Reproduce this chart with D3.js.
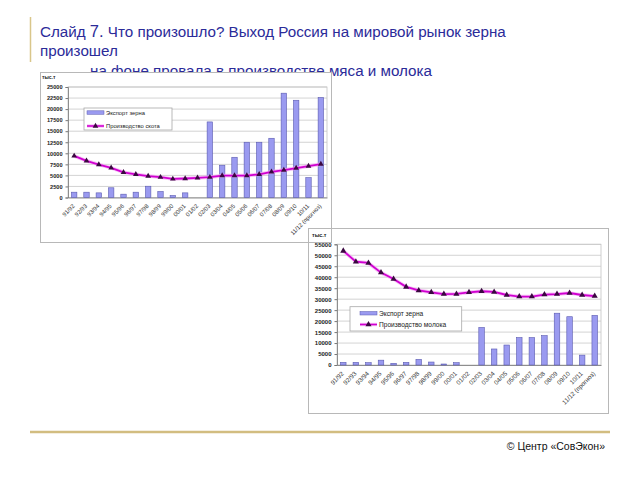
<!DOCTYPE html>
<html><head><meta charset="utf-8">
<script src="https://cdn.jsdelivr.net/npm/d3@7/dist/d3.min.js"></script>
<style>body{margin:0;background:#fff} svg{display:block}</style>
</head><body><svg id="c" width="640" height="480"></svg>
<script>
const categories = ["91/92","92/93","93/94","94/95","95/96","96/97","97/98","98/99","99/00","00/01","01/02","02/03","03/04","04/05","05/06","06/07","07/08","08/09","09/10","10/11","11/12 (прогноз)"];
const grainExport = [1200,1200,1050,2200,750,1200,2550,1350,450,1050,0,17100,7300,9100,12500,12500,13400,23600,22000,4500,22600];
const livestockProduction = [9400,8300,7450,6700,5700,5250,4850,4600,4200,4300,4450,4600,4950,4950,4950,5250,5800,6200,6650,7100,7550];
const milkProduction = [52000,47100,46500,42100,39200,35600,34000,33100,32300,32400,33100,33600,33300,31900,31200,31200,32100,32300,32800,31900,31400];
const ticks1 = [0,2500,5000,7500,10000,12500,15000,17500,20000,22500,25000];
const ticks2 = [0,5000,10000,15000,20000,25000,30000,35000,40000,45000,50000,55000];
const names1 = ["Экспорт зерна","Производство скота"];
const names2 = ["Экспорт зерна","Производство молока"];
const unitLabel = "тыс.т";
const titleLines = ["Слайд 7. Что произошло? Выход Россия на мировой рынок зерна","произошел","на фоне провала в производстве мяса и молока"];
const footer = "© Центр «СовЭкон»";

const svg = d3.select("#c");
const FONT = "Liberation Sans, Arial, sans-serif";

// slide decorations
const grad = svg.append("defs").append("linearGradient").attr("id","gold").attr("x1","0").attr("x2","1");
grad.append("stop").attr("offset","0").attr("stop-color","#c9ad55");
grad.append("stop").attr("offset","1").attr("stop-color","#e8d9a8");
svg.append("line").attr("x1",30).attr("x2",612).attr("y1",17).attr("y2",17).attr("stroke","url(#gold)").attr("stroke-width",1.5);
svg.append("line").attr("x1",30.5).attr("x2",30.5).attr("y1",17).attr("y2",62).attr("stroke","#d9c68a").attr("stroke-width",1.5);
svg.append("line").attr("x1",30).attr("x2",610).attr("y1",432).attr("y2",432).attr("stroke","#d2bd80").attr("stroke-width",2.5);

const title = svg.append("g").attr("font-family",FONT).attr("fill","#2b2b99").attr("font-size",15.2);
const t0 = title.append("text").attr("x",40).attr("y",37);
t0.append("tspan").text("Слайд ");
t0.append("tspan").attr("font-size",16.5).text("7.");
t0.append("tspan").text(" " + titleLines[0].slice(9));
title.append("text").attr("x",40).attr("y",56).text(titleLines[1]);
title.append("text").attr("x",90).attr("y",76).text(titleLines[2]);

svg.append("text").attr("x",605).attr("y",450).attr("text-anchor","end").attr("font-family",FONT)
  .attr("font-size",10.5).attr("fill","#111").text(footer);

function drawChart(cfg){
  const g = svg.append("g").attr("font-family",FONT);
  g.append("rect").attr("x",cfg.frame.x+0.5).attr("y",cfg.frame.y+0.5).attr("width",cfg.frame.w).attr("height",cfg.frame.h)
    .attr("fill",cfg.fill).attr("stroke","#b8b8b8").attr("stroke-width",1);
  const x = d3.scaleBand().domain(categories).range([cfg.l,cfg.r]).paddingInner(0.56).paddingOuter(0.28);
  const y = d3.scaleLinear().domain([0,cfg.yMax]).range([cfg.b,cfg.t]);
  // plot area border & gridlines
  g.append("rect").attr("x",cfg.l).attr("y",cfg.t).attr("width",cfg.r-cfg.l).attr("height",cfg.b-cfg.t)
    .attr("fill","none").attr("stroke","#c4c4c4").attr("stroke-width",0.8);
  g.append("g").selectAll("line").data(cfg.ticks.slice(1)).join("line")
    .attr("x1",cfg.l).attr("x2",cfg.r).attr("y1",d=>y(d)).attr("y2",d=>y(d))
    .attr("stroke","#c8c8c8").attr("stroke-width",0.8);
  // y axis
  const ya = g.append("g").attr("transform",`translate(${cfg.l},0)`)
    .call(d3.axisLeft(y).tickValues(cfg.ticks).tickSize(2.5).tickPadding(3).tickFormat(d3.format("d")));
  ya.select(".domain").attr("stroke","#777").attr("stroke-width",0.8);
  ya.selectAll(".tick line").attr("stroke","#777");
  ya.selectAll("text").attr("font-size",cfg.fs).attr("font-family",FONT).attr("fill","#222").attr("font-weight","bold");
  // x axis
  const xa = g.append("g").attr("transform",`translate(0,${cfg.b})`)
    .call(d3.axisBottom(x).tickSize(0).tickPadding(0));
  xa.select(".domain").attr("stroke","#777").attr("stroke-width",0.8);
  xa.selectAll("text").attr("font-size",cfg.fs+0.3).attr("font-family",FONT).attr("fill","#333")
    .attr("text-anchor","end").attr("dy",0).attr("transform","translate(1,9) rotate(-45)");
  // bars
  g.append("g").selectAll("rect").data(grainExport).join("rect")
    .attr("x",(d,i)=>x(categories[i])).attr("width",x.bandwidth())
    .attr("y",d=>y(d)).attr("height",d=>cfg.b-y(d))
    .attr("fill","#9a9af0").attr("stroke","#5a5ab0").attr("stroke-width",0.6);
  // line
  const cx = (d,i)=>x(categories[i])+x.bandwidth()/2;
  const line = d3.line().x(cx).y(d=>y(d));
  g.append("path").datum(cfg.line).attr("d",line).attr("fill","none").attr("stroke","#f4a8f4").attr("stroke-width",3.6).attr("opacity",0.7);
  g.append("path").datum(cfg.line).attr("d",line).attr("fill","none").attr("stroke","#d000d0").attr("stroke-width",1.8);
  const tri = d3.symbol(d3.symbolTriangle).size(cfg.ms);
  g.append("g").selectAll("path").data(cfg.line).join("path")
    .attr("transform",(d,i)=>`translate(${cx(d,i)},${y(d)})`).attr("d",tri).attr("fill","#3a0840");
  // unit
  g.append("text").attr("x",cfg.unit[0]).attr("y",cfg.unit[1]).attr("font-size",cfg.fs*0.9).attr("font-weight","bold").attr("fill","#222").text(unitLabel);
  // legend
  const L = cfg.legend;
  g.append("rect").attr("x",L.x).attr("y",L.y).attr("width",L.w).attr("height",L.h).attr("fill","#fff").attr("stroke","#a8a8a8").attr("stroke-width",0.8);
  g.append("rect").attr("x",L.sx).attr("y",L.r1-2).attr("width",L.sw).attr("height",3.5).attr("fill","#9a9af0").attr("stroke","#5a5ab0").attr("stroke-width",0.5);
  g.append("line").attr("x1",L.sx).attr("x2",L.sx+L.sw).attr("y1",L.r2).attr("y2",L.r2).attr("stroke","#f4a8f4").attr("stroke-width",3.4).attr("opacity",0.7);
  g.append("line").attr("x1",L.sx).attr("x2",L.sx+L.sw).attr("y1",L.r2).attr("y2",L.r2).attr("stroke","#d000d0").attr("stroke-width",1.6);
  g.append("path").attr("transform",`translate(${L.sx+L.sw/2},${L.r2})`).attr("d",tri).attr("fill","#3a0840");
  g.append("text").attr("x",L.tx).attr("y",L.r1).attr("dy","0.35em").attr("font-size",L.fs).attr("fill","#222").text(cfg.names[0]);
  g.append("text").attr("x",L.tx).attr("y",L.r2).attr("dy","0.35em").attr("font-size",L.fs).attr("fill","#222").text(cfg.names[1]);
}

drawChart({
  frame:{x:40,y:72,w:291,h:170}, fill:"#fff",
  l:68,r:327,t:87,b:197.5,yMax:25000,ticks:ticks1,
  line:livestockProduction,names:names1,fs:5.6,ms:14,
  unit:[42,79],
  legend:{x:84,y:108,w:88,h:22,r1:112.8,r2:126,sx:87,sw:17,tx:106,fs:5.8}
});
drawChart({
  frame:{x:308,y:228,w:300,h:185}, fill:"none",
  l:337,r:601,t:244.3,b:365,yMax:55000,ticks:ticks2,
  line:milkProduction,names:names2,fs:6,ms:16,
  unit:[312,237],
  legend:{x:350,y:306.7,w:111.7,h:24.3,r1:313.5,r2:324.5,sx:360,sw:17,tx:379,fs:6.6}
});
</script></body></html>
